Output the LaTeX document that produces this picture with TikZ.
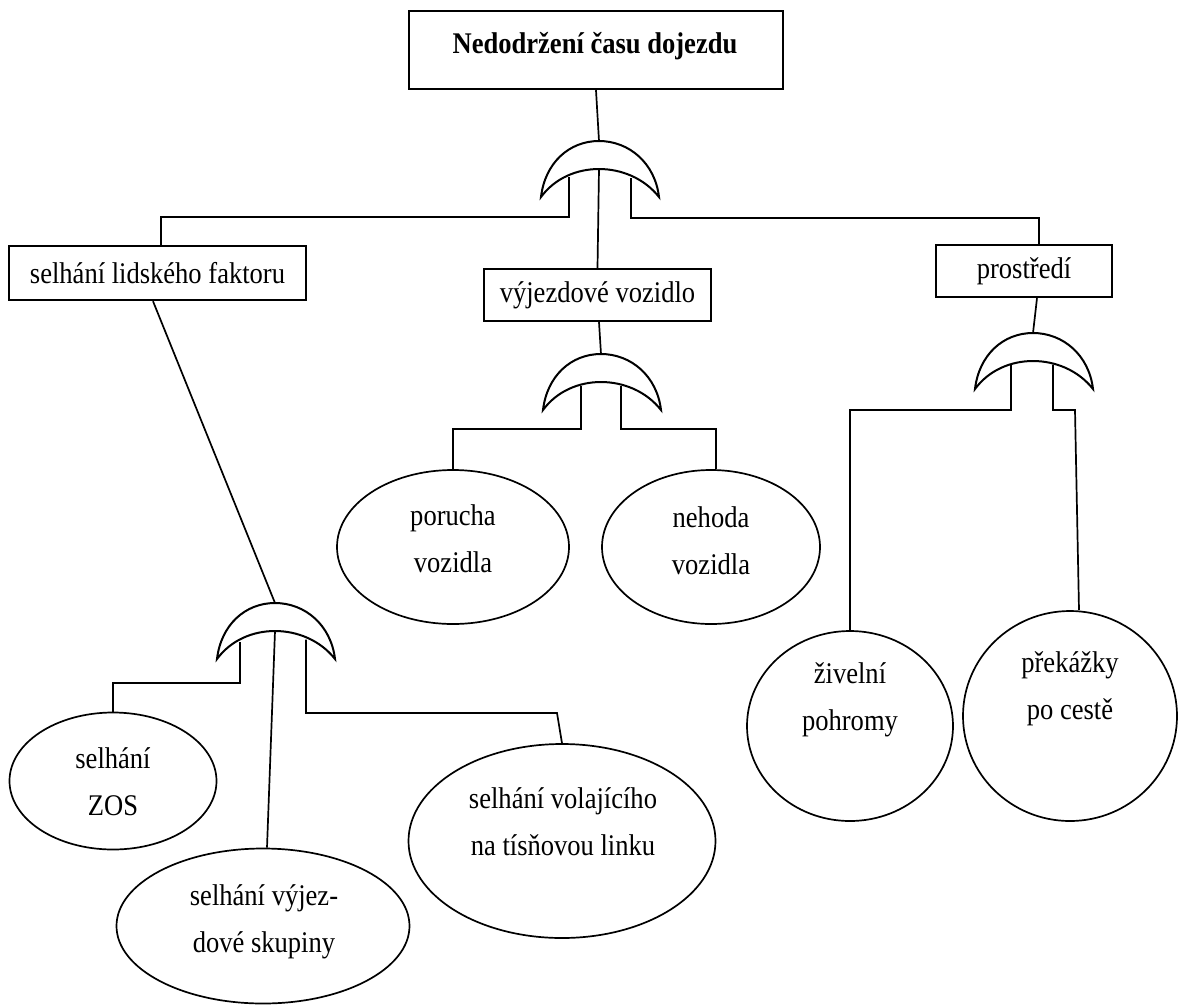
\documentclass[tikz,border=0pt]{standalone}
\usepackage{fontspec}
\setmainfont[FakeStretch=0.885]{Liberation Serif}
\usetikzlibrary{shapes.geometric}
\begin{document}
\begin{tikzpicture}[x=1pt,y=-1pt,
  box/.style={draw, line width=2.4pt, rectangle, inner sep=0pt, font=\fontsize{30}{36}\selectfont},
  ev/.style={draw, line width=1.7pt, ellipse, inner sep=0pt},
  txt/.style={align=center, inner sep=0pt, font=\fontsize{30}{47}\selectfont},
  con/.style={line width=1.7pt},
  pics/orgate/.style 2 args={code={
    \draw[line width=2pt] (-58,56) .. controls (-54,22) and (-30,0) .. (0,0)
      .. controls (30,0) and (56,22) .. (60,56)
      .. controls (45,37) and (22,28) .. (0,28)
      .. controls (-22,28) and (-44,37) .. (-58,56) -- cycle;
    \coordinate (-out) at (0,0);
    \coordinate (-inM) at (0,28);
    \coordinate (-inL) at ({-#1},{28+0.009*#1*#1});
    \coordinate (-inR) at ({#2},{28+0.009*#2*#2});
  }}]
\useasboundingbox (0,0) rectangle (1184,1005);
% boxes
\node[box, minimum width=374pt, minimum height=78pt] (top) at (596,50) {};
\node[txt, font=\fontsize{30}{36}\selectfont\bfseries] (toptxt) at (595,46) {Nedodržení času dojezdu};
\node[box, minimum width=297pt, minimum height=54pt] (lf) at (157.5,273) {selhání lidského faktoru};
\node[box, minimum width=227pt, minimum height=52pt] (veh) at (597.5,295) {výjezdové vozidlo};
\node[box, minimum width=176pt, minimum height=52pt] (env) at (1024,271) {prostředí};
% gates
\pic (g1) at (599,141) {orgate={30}{32}};
\pic (g2) at (601,354) {orgate={20}{20}};
\pic (g3) at (1033,333) {orgate={22}{20}};
\pic (g4) at (275,603) {orgate={35}{31}};
% ellipses
\node[ev, minimum width=232pt, minimum height=154pt] (e1) at (453,547) {};
\node[txt] (t1) at (453,539) {porucha\\vozidla};
\node[ev, minimum width=218pt, minimum height=154pt] (e2) at (711,547) {};
\node[txt] (t2) at (711,541) {nehoda\\vozidla};
\node[ev, minimum width=206pt, minimum height=190pt] (e3) at (850,726) {};
\node[txt] (t3) at (850,700) {živelní\\pohromy};
\node[ev, minimum width=214pt, minimum height=210pt] (e4) at (1070,716) {};
\node[txt] (t4) at (1070,689) {překážky\\po cestě};
\node[ev, minimum width=207pt, minimum height=137pt] (e5) at (113,781) {};
\node[txt] (t5) at (113,782) {selhání\\ZOS};
\node[ev, minimum width=293pt, minimum height=155pt] (e6) at (263,926) {};
\node[txt] (t6) at (264,922) {selhání výjez-\\dové skupiny};
\node[ev, minimum width=307pt, minimum height=194pt] (e7) at (562,841) {};
\node[txt] (t7) at (563,822) {selhání volajícího\\na tísňovou linku};
% connectors
\draw[con] (top.south) -- (g1-out);
\draw[con] (g1-inL) -- ++(0,40) -| ([xshift=3.5pt]lf.north);
\draw[con] (g1-inM) -- (veh.north);
\draw[con] (g1-inR) -- ++(0,40) -| ([xshift=15pt]env.north);
\draw[con] ([xshift=1.5pt]veh.south) -- (g2-out);
\draw[con] (g2-inL) -- ++(0,43.4) -| (e1.north);
\draw[con] (g2-inR) -- ++(0,43.4) -| ([xshift=5pt]e2.north);
\draw[con] ([xshift=13pt]env.south) -- (g3-out);
\draw[con] (g3-inL) -- ++(0,44.6) -| (e3.north);
\draw[con] (g3-inR) -- ++(0,45.4) -- ++(22,0) -- ([xshift=9pt]e4.north);
\draw[con] ([xshift=-4.5pt]lf.south) -- (g4-out);
\draw[con] (g4-inL) -- ++(0,41) -| ([yshift=6pt]e5.north) -- (e5.north);
\draw[con] (g4-inM) -- ([xshift=4pt]e6.north);
\draw[con] (g4-inR) -- ++(0,73.4) -- ++(251,0) -- (e7.north);
\end{tikzpicture}
\end{document}
